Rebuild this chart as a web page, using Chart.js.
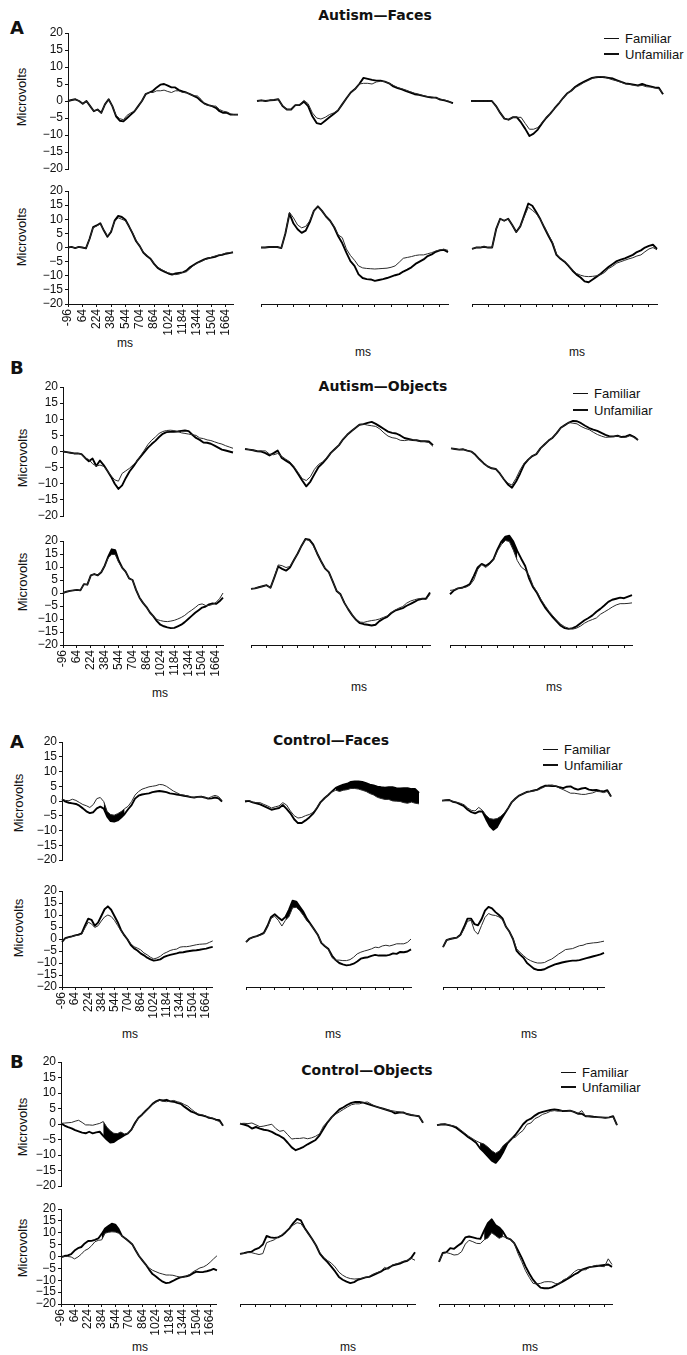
<!DOCTYPE html>
<html>
<head>
<meta charset="utf-8">
<script src="https://cdn.jsdelivr.net/npm/chart.js@4.4.1/dist/chart.umd.min.js"></script>
<style>
  body { margin: 0; background: #fff; }
  #page { position: relative; width: 687px; height: 1355px; overflow: hidden;
          font-family: "Liberation Sans", Arial, sans-serif; color: #111; }
  canvas { position: absolute; }
  .t { position: absolute; white-space: nowrap; line-height: 1; color: #111; }
  .title { font: bold 14px "DejaVu Sans", sans-serif; transform: translate(-50%, -50%); }
  .letter { font: bold 18px "DejaVu Sans", sans-serif; transform: translateY(-50%); }
  .micro { font-size: 13px; transform: translate(-50%, -50%) rotate(-90deg); }
  .ms { font-size: 12px; transform: translate(-50%, -50%); }
  .leg { font-size: 13px; transform: translateY(-50%); }
  .legline { position: absolute; height: 0; }
</style>
</head>
<body>
<div id="page"></div>
<script>
// time axis (ms) and tick labels
const timeMs = [-96, -56, -16, 24, 64, 104, 144, 184, 224, 264, 304, 344, 384, 424, 464, 504, 544, 584, 624, 664, 704, 744, 784, 824, 864, 904, 944, 984, 1024, 1064, 1104, 1144, 1184, 1224, 1264, 1304, 1344, 1384, 1424, 1464, 1504, 1544, 1584, 1624, 1664, 1704, 1744];
const xTickLabels = [-96, 64, 224, 384, 544, 704, 864, 1024, 1184, 1344, 1504, 1664];
const yTickLabels = [20, 15, 10, 5, 0, -5, -10, -15, -20];

// Autism - Faces (1-3 top row, 4-6 bottom row)
const autFaceFam1 = [0,0.3,0.5,0,-0.8,0,-1.5,-3,-2.5,-3.5,-1,0.5,-1.5,-4.2,-5.2,-5.5,-4.2,-3.5,-3,-1.5,0,2,2.5,2.5,3,3,3.2,2.8,2.5,3,3,2.5,2.5,2,1.5,1.5,0.5,-1,-1.3,-1.5,-1.5,-2.5,-3,-3.2,-3.8,-4,-4];
const autFaceUnf1 = [0,0.3,0.5,0,-0.8,0,-1.5,-3,-2.5,-3.5,-1,0.5,-1.5,-4.5,-5.8,-6,-5,-4,-3,-1.5,0,2,2.5,3,4,4.8,5,4.5,4,4,3.2,2.8,2.5,2,1.5,1,0,-0.8,-1.2,-1.5,-2,-3,-3.5,-3.5,-4,-4,-4];
const autFaceFam2 = [0,0.2,0,0.2,0.3,0.5,-1.5,-2.5,-2.5,-1.2,-1.2,0.2,-0.8,-3.5,-5,-5.3,-4.8,-4,-3.5,-2.8,-1,0.8,2.5,3.5,5,5.2,5.2,5,5.6,5.8,5.7,5.2,4.6,4,3.6,3.2,2.7,2.3,2,1.6,1.3,1.2,0.9,0.6,0.3,-0.1,-0.8];
const autFaceUnf2 = [0,0.2,0,0.2,0.3,0.5,-1.5,-2.5,-2.5,-1.2,-1.2,-0.2,-1.5,-4.5,-6.5,-6.8,-5.8,-4.8,-3.8,-2.8,-1,0.8,2.5,3.5,5,6.8,6.5,6.2,6,6,5.7,5.2,4.3,3.8,3.4,2.9,2.5,2,1.8,1.5,1.2,1,1,0.4,0.2,-0.2,-0.6];
const autFaceFam3 = [0,0,0,0,0,0,-1.5,-3.5,-5.2,-5.5,-4.8,-4.8,-4.8,-6.6,-8.3,-8.3,-7.8,-6.4,-4.9,-3.7,-2.2,-0.8,0.8,2.2,3,4,4.6,5.4,6,6.6,7,7.2,7,6.6,6.2,5.9,5.5,5,4.9,4.6,4.4,4.6,4.2,4.1,3.8,3.6,2.2];
const autFaceUnf3 = [0,0,0,0,0,0,-1.5,-3.5,-5.2,-5.5,-4.8,-4.8,-6.3,-8.2,-10.3,-9.6,-8.4,-6.6,-5,-3.7,-2.2,-0.8,0.8,2.2,3,4.2,5,5.6,6.2,6.8,7,7.1,7,6.8,6.6,6.1,5.6,5.2,5,4.8,4.6,5,4.6,4.3,4,3.9,2];
const autFaceFam4 = [0,0.2,-0.2,0.2,0,-0.3,3,7,7.6,8.4,6.2,4,5.8,9.2,10.5,10,9.5,7.5,5.2,2.5,0.5,-1.6,-2.8,-4,-5.6,-7,-7.8,-8.4,-9,-9.3,-9.6,-9.4,-8.8,-8.6,-7.5,-6.4,-5.6,-5,-4.4,-3.9,-3.4,-3,-2.7,-2.4,-2,-1.8,-1.6];
const autFaceUnf4 = [0,0.2,-0.2,0.2,0,-0.3,3,7.2,7.8,8.6,6,3.8,5.5,9.5,11.2,10.8,9.8,7.5,5,2.2,0.5,-1.8,-3,-4,-5.8,-7.2,-8,-8.6,-9.2,-9.6,-9.2,-9,-8.8,-8.2,-7,-6.2,-5.4,-4.8,-4.2,-3.8,-3.6,-3.3,-2.8,-2.6,-2.2,-2,-1.7];
const autFaceFam5 = [0,0,0.2,0.2,0.2,-0.2,5,12.5,10.5,8,7,7.5,9.5,13,14.6,13,11,9.5,7.5,4.5,3.5,-0.5,-2.8,-4.5,-6.5,-7.2,-7.4,-7.5,-7.6,-7.5,-7.4,-7.3,-7,-6.5,-5.2,-3.8,-3.5,-3.2,-2.8,-2.6,-2.6,-2.2,-1.8,-1.2,-0.8,-0.6,-1];
const autFaceUnf5 = [0,0,0.2,0.2,0.2,-0.2,5,12,8.5,6.5,5.2,6,9,13,14.6,13,11,9.5,7.2,4,1.5,-1.8,-4.8,-6.5,-9.5,-10.8,-11.2,-11.3,-11.8,-11.5,-11.2,-10.8,-10.3,-9.8,-9.4,-8.5,-7.8,-7,-5.8,-5,-4.2,-3,-2.4,-1.5,-1,-0.8,-1.6];
const autFaceFam6 = [-0.5,0,0,0.3,0,0,6.5,10.2,9.5,10.2,8,5.5,7.5,11,14.3,13.2,12,10,7.3,4.5,2,-2.3,-3.8,-4.8,-6.3,-8,-9.2,-9.8,-10.2,-10.3,-10.2,-10,-9.6,-8.8,-7.4,-6.6,-5.5,-5,-4.5,-4,-3.6,-3,-2.6,-1.5,-0.5,0,-0.8];
const autFaceUnf6 = [-0.5,0,0,0.3,0,0,6.5,10.2,9.5,10.2,8,5.5,7.5,11.5,15.6,14.8,12.5,10,7,4.2,1.5,-2.6,-4,-5,-6.5,-8.2,-9.6,-10.6,-12,-12.3,-11.3,-10.3,-9.3,-8,-6.8,-5.8,-4.8,-4.3,-3.8,-3.2,-2.6,-1.6,-1,0,0.6,1,-0.5];

// Autism - Objects
const autObjFam1 = [0,-0.2,-0.4,-0.6,-0.6,-0.8,-2,-2.5,-3.8,-4.5,-4.2,-4.6,-6,-7.5,-8.8,-9.2,-6.8,-6,-5.2,-4.1,-3,-1.3,0.4,2.2,3.5,4.5,5.6,6.2,6.5,6.6,6.5,6.2,5.8,5.6,5.4,5.2,5,4.2,4,3.6,3.4,3,2.6,2.3,1.8,1.4,1];
const autObjUnf1 = [0,-0.2,-0.4,-0.6,-0.6,-0.8,-2,-3,-2.2,-4.5,-2.8,-4.2,-6,-7.8,-10,-11.6,-10.5,-8.2,-6.2,-4.7,-3,-1.6,-0.2,1.2,2.3,3.3,4.5,5.5,6,6.1,6.1,6.2,6.4,6.5,6.3,5.2,4.2,3.6,2.8,2.7,2.4,1.8,1.2,0.6,0.3,0,-0.3];
const autObjFam2 = [0.8,0.6,0.4,0.1,0.2,0.2,-0.8,-1,-0.6,-1.5,-2.4,-3.2,-4.7,-6.5,-8.4,-9,-7.8,-5.5,-4,-3.2,-2,-0.4,0.8,2,3.8,5.2,6.3,7.3,8.3,8.5,8.2,8,7.8,7,5.8,4.8,4.3,4.1,3.5,3.4,3.6,3.6,3.4,3.2,3.1,2.8,1.6];
const autObjUnf2 = [0.8,0.6,0.4,0.1,0,-0.5,-1.2,-0.5,0.3,-2,-2.8,-3.6,-5,-7,-9,-10.8,-9.3,-7,-4.8,-3.6,-2.1,-0.4,0.8,2,3.8,5.2,6.3,7.3,8.3,8.5,8.9,9.2,8.6,7.8,7,6.2,5.8,5.6,5,4.2,3.9,3.6,3.5,3.2,3.2,3.1,2];
const autObjFam3 = [1,0.8,0.6,0.7,0.3,0,-1,-2.4,-3.6,-4.6,-5.2,-5.4,-6.8,-8.6,-9.8,-10.4,-8.3,-5.7,-3.6,-2.5,-1.4,-0.8,1,2.2,3.4,4.3,5.7,7.4,8.2,9,8.8,8.6,7.8,7.2,6.8,6,5.3,4.8,4.4,4.5,4.6,4.8,4.4,4.4,4.9,4.4,3.6];
const autObjUnf3 = [1,0.8,0.6,0.7,0.3,0,-1,-2.4,-3.6,-4.6,-5.2,-5.4,-6.8,-8.6,-10.2,-11.2,-9.3,-6.8,-4,-2.5,-1.4,-0.8,1,2.2,3.4,4.3,5.7,7.4,8.2,9,9.5,9.4,8.8,8,7.3,6.8,6.4,5.8,5.2,4.7,4.7,4.9,4.5,4.7,5.2,4.6,3.6];
const autObjFam4 = [0,0.5,0.8,1,1.2,1,3.4,3.2,6.8,7.3,6.8,8,10.5,13.5,14.8,14.8,11.8,9.8,8.2,5.6,5,1.2,-1.8,-3.8,-5.4,-7.5,-9,-10.2,-10.6,-10.9,-11,-10.8,-10.5,-10,-9.4,-8.6,-7.5,-6.6,-5.6,-4.5,-4.2,-4.8,-4.8,-4.4,-3.6,-2.2,0];
const autObjUnf4 = [0,0.5,0.8,1,1.2,1,3.4,3.2,6.8,7.3,6.8,8,10.5,14,16.8,16.5,12.5,9.8,8.2,5.6,5,1.2,-1.8,-3.8,-5.4,-7.5,-9,-10.8,-12.2,-12.8,-13.2,-13.5,-13.4,-12.8,-12.2,-11.2,-10,-8.8,-7.6,-6.6,-5.6,-5.2,-4.4,-4,-4.2,-3.2,-1.8];
const autObjFam5 = [1.6,1.8,2.2,2.6,3,2,6,10.8,10.5,9.8,10.2,12.6,15.2,18.2,20.6,20.2,18.2,15.2,12.2,9.5,8,4.5,0.8,-0.5,-3.8,-6.3,-8.5,-10.3,-11.2,-11.3,-10.9,-10.6,-10.4,-10,-9.4,-8.8,-7.5,-6.6,-5.8,-5.2,-3.9,-3.1,-2.6,-2.2,-2.2,-2.5,-0.5];
const autObjUnf5 = [1.6,1.8,2.2,2.6,3,2,6,10.2,9.3,8.6,9.8,12.6,15.2,18.2,20.8,20.5,18.6,15.2,12.2,9.5,8,4.5,0.8,-0.5,-3.8,-6.3,-8.5,-10.3,-11.6,-12,-12.2,-12.5,-12.2,-10.8,-9.9,-9.2,-7.8,-6.8,-6.3,-5.8,-4.9,-4.2,-3.4,-2.6,-2.2,-2.1,0.2];
const autObjFam6 = [1,1.2,1.8,2,2.2,3,5,9,11,9.8,11,12.8,16.2,18.6,20.2,19.8,16.5,12.5,10,8.8,6.8,2.8,0.4,-2.5,-4.8,-7,-8.8,-10.5,-12,-13,-13.6,-13.9,-13.5,-12.7,-11.6,-10.8,-10.2,-9.6,-8.2,-7.3,-6.4,-5.4,-4.6,-4.1,-4.1,-4,-3.8];
const autObjUnf6 = [-0.5,1,1.8,2,2.6,3.4,6.5,9.8,11.2,10.4,11.4,13,16.8,19.8,21.7,22,19.8,16.2,13.2,10.4,5.5,2.2,0,-3,-5.5,-7.5,-9.4,-11,-12.6,-13.5,-13.8,-13.5,-12.8,-11.6,-10.5,-9.6,-8.6,-7.2,-6.1,-4.8,-3.4,-2.6,-2.2,-1.8,-2,-1.4,-0.8];

// Control - Faces
const ctlFaceFam1 = [0.6,0.2,0.1,0.6,0.2,-0.5,-1.2,-1.6,-2.2,-1.2,0.8,1.2,-0.2,-3.6,-4.6,-4.8,-4.3,-3.6,-2.6,-1.8,-0.2,2,3.2,4,4.4,4.8,5,5.2,5.6,5.5,5,4.2,3.4,2.8,2.2,2,1.7,1.4,1.2,1.4,1.5,1.2,0.9,1.5,1.9,1.5,0.2];
const ctlFaceUnf1 = [0.6,-0.2,-0.6,-0.8,-1,-1.6,-2.5,-3.5,-4.1,-3.8,-2.5,-1.9,-2.6,-5.3,-6.8,-7,-6.6,-5.6,-4.4,-2.8,-1.4,0.8,1.8,2.2,2.4,2.6,3,3.2,3.4,3.2,3,2.6,2.4,2.2,2,1.8,1.6,1.3,1.2,1.4,1.5,1.2,0.8,0.9,1.2,0.9,-0.2];
const ctlFaceFam2 = [0,0.1,-0.4,-0.6,-0.6,-1.2,-1.7,-2.4,-2,-1.7,-0.6,-1.4,-3.4,-5,-5.8,-5.6,-5,-4.6,-3.9,-2.3,-0.2,0.9,2,3,3.6,3.2,3.6,3.8,4.2,4.2,4,3.6,3.2,2.5,2,1.2,0.8,0.5,0.5,0,-0.1,-0.2,-0.6,-0.8,-0.4,-0.8,-1];
const ctlFaceUnf2 = [-0.2,0,-0.5,-0.8,-1.2,-1.8,-2.4,-3,-2.7,-2.4,-1.4,-2.7,-4.2,-6.2,-7.5,-7.5,-6.6,-5.6,-4.3,-2.5,-0.4,0.9,2,3.2,4.4,5,5.5,5.8,6.4,6.6,6.6,6.4,6,5.5,5.2,4.8,4.6,4.5,4.6,4.6,4.3,4.2,4.3,4.3,4,4,2.7];
const ctlFaceFam3 = [0.1,0.2,0.3,-0.2,-0.5,-0.8,-1.3,-2.4,-3.2,-3.4,-2.2,-3.2,-4.9,-6,-6.2,-6,-5.2,-4,-2.5,-0.4,0.8,1.8,2.4,3,3.2,3.4,3.7,4.2,4.8,5.3,5.4,5,4.3,3.8,3.2,2.6,2.6,2.4,2.2,2.2,2.5,2.7,3.2,3.1,2.8,3.2,1.5];
const ctlFaceUnf3 = [0.1,0.2,0.3,-0.3,-0.6,-1.2,-1.8,-3,-3.8,-4.2,-3.6,-3.6,-6.2,-8.5,-9.8,-8.8,-6.5,-4.4,-2.5,-0.4,0.8,1.8,2.4,3,3.2,3.5,3.8,4.6,5.1,5.1,5,5,4.6,4.3,4.8,4.9,4.2,3.8,4.2,4.4,3.8,3.6,3.7,3.4,3.2,3.6,1.5];
const ctlFaceFam4 = [-0.8,0.2,0.6,1,1.4,1.6,2,4.6,7,6.3,4.8,5.5,7.5,9.2,10,9.4,7.8,5.6,3.4,1.4,0,-2,-3.2,-3.8,-4.5,-5.8,-6.6,-7.6,-8.3,-7.9,-7.2,-6.1,-5.5,-4.8,-4.4,-4.2,-3.4,-3.2,-3.2,-3,-2.7,-2.4,-2.2,-2.1,-2,-1.4,-0.8];
const ctlFaceUnf4 = [-1.2,0.4,0.8,1.1,1.5,1.8,2.3,5.6,8.5,8,5.5,6.8,9.6,12.4,13.6,12.2,9.6,7,3.8,1.6,-0.2,-2.5,-3.9,-4.8,-6,-6.8,-7.8,-8.5,-9,-8.8,-8.5,-7.6,-7,-6.6,-6.3,-6,-5.6,-5.5,-5.2,-5,-4.8,-4.7,-4.5,-4.2,-4,-3.6,-3.3];
const ctlFaceFam5 = [-1.2,0,0.8,1.1,1.6,2.2,5,8.6,9.5,7.8,5.4,7.8,9.4,13,13.2,11.8,9.8,7.5,6,4,1.8,-1.4,-3,-4.5,-7.8,-8.8,-8.8,-9,-9,-8.6,-7.6,-6.2,-5.5,-5,-4.6,-4.1,-3.4,-3.6,-2.9,-2.6,-2.9,-2.5,-2,-2,-2,-1.4,0];
const ctlFaceUnf5 = [-1.3,0.2,0.8,1.2,1.8,2.6,5.5,9.2,10.3,9,7.8,9.2,12.2,16,15.6,13.4,11.3,8.4,6.2,4,1.8,-1.6,-3,-4.2,-7,-8.8,-10,-10.6,-11,-10.8,-10.3,-9.4,-8.2,-7.8,-7.6,-7,-6.6,-6.9,-6.9,-6.9,-6.6,-6,-6.2,-5.4,-5.5,-5.2,-4.3];
const ctlFaceFam6 = [-3.4,-0.5,0,0.3,0.6,1.5,4.2,7.4,7.8,3.4,2,5.6,9,10.6,10,9.8,9.2,8,5.1,3,0.2,-4,-5.6,-6.9,-8.2,-9,-9.6,-10,-10,-9.8,-9,-8.4,-7.4,-6.3,-5.4,-4.4,-4.2,-4,-3.4,-2.8,-2.6,-2,-1.8,-1.6,-1.5,-1.2,-0.9];
const ctlFaceUnf6 = [-3.4,-0.5,0,0.3,0.6,1.8,5,8.5,8.5,6.2,5.7,8.2,11.8,13.4,12.8,11.2,10,8.6,5.1,3,0,-4.8,-6.5,-7.8,-10,-11.2,-12.4,-12.9,-12.9,-12.6,-11.8,-11.2,-10.6,-10.2,-9.8,-9.5,-9.2,-9,-9,-8.8,-8.4,-8,-7.6,-7.2,-6.8,-6.4,-5.8];

// Control - Objects
const ctlObjFam1 = [0.2,0.3,0.4,0.5,0.9,1.2,0.5,-0.3,-0.3,-0.4,-0.1,0.2,0.8,-1,-2.2,-3,-3.1,-2.6,-3.2,-3,-2,0,2,3,4.2,5.3,6.4,7.1,7.6,7.3,7.2,7.4,7.6,7.2,6.9,6.3,5.8,4.8,3.9,3.2,3,2.6,2.2,1.9,1.2,0.8,-0.6];
const ctlObjUnf1 = [0.2,-0.5,-1,-1.4,-2,-2.4,-2.8,-3,-2.5,-3,-2.7,-2.5,-3.8,-5,-6,-5.8,-5,-4.3,-3.6,-3,-1.8,0.3,2,3,4.2,5.3,6.5,7.3,7.8,7.6,7.8,7.3,7.2,6.8,6.5,5.6,4.8,4,3.6,3,2.8,2.5,2,1.8,1.4,1.2,-0.6];
const ctlObjFam2 = [0.2,0.3,0.2,0.4,-0.2,-0.8,-0.6,-0.3,0,-1.4,-2.3,-2,-3.4,-4.8,-4.6,-4.6,-4.4,-4.7,-4.4,-3.9,-3.1,-0.6,0.8,2.2,3.2,4,4.8,5.6,6.3,6.6,6.6,7,7.2,6.5,5.8,5.4,5,4.6,4.4,4.2,4,3.7,3.3,3,2.8,2.6,0.5];
const ctlObjUnf2 = [0.2,-0.1,-0.5,-1.4,-0.9,-1.4,-1.8,-2,-2.5,-3.2,-3.8,-4.6,-6,-7.5,-8.4,-7.9,-7.3,-6.5,-5.8,-5.1,-3.6,-1.5,0.6,2.2,3.5,4.8,5.5,6.3,6.9,7.2,7.2,7,6.6,6.2,5.8,5.4,5,4.6,4.2,3.5,3.8,3.8,3.3,3,2.8,2.6,0.5];
const ctlObjFam3 = [-0.3,0,0,-0.2,-0.5,-0.8,-1.8,-2.8,-3.8,-4.6,-5.4,-6,-6.4,-7.4,-8.6,-9.4,-8.6,-6.8,-5.8,-4.6,-4.2,-3,-2,0,0.4,1.8,2.4,3.2,3.6,4.2,4.4,4.2,4.4,4.2,4.4,4,3.5,4.4,2.6,2.4,2.3,2.2,2.2,2.1,2.2,2.4,-0.3];
const ctlObjUnf3 = [-0.3,-0.1,0,-0.3,-0.6,-1.2,-2.2,-3.2,-4.2,-5,-6,-7.8,-9,-10.4,-11.8,-12.5,-11,-8.8,-6.2,-4.8,-3.5,-1.8,0,1.2,1.8,2.8,3.6,4,4.3,4.6,4.8,4.6,4.3,4.3,4.4,4,3.4,3.4,2.6,2.6,2.4,2.3,2.2,2.1,2.2,2.6,-0.3];
const ctlObjFam4 = [-0.3,0,0,-0.2,-1,-0.2,1,2.5,3.2,4.5,6.2,6.8,7,9.8,10.2,10.4,10.3,9.8,8.6,7.6,6.4,5.2,2.6,0.2,-1.6,-3.4,-4.8,-5.8,-6.4,-7,-7.4,-7.8,-7.8,-7.9,-8.3,-8.6,-8.8,-8.2,-7.6,-6.4,-5.6,-4.8,-4.4,-3.6,-2.4,-1,0.3];
const ctlObjUnf4 = [-0.3,0.2,0.5,1,2.5,3.5,4,5.5,6.5,6.6,7,7.6,9.5,11.8,12.8,13.8,13.4,11.5,8.6,7.6,6.4,5.2,2.6,0.2,-1.6,-3.4,-5.5,-7.4,-8.4,-9.6,-10.6,-11.2,-11,-10.3,-9.5,-8.9,-8.6,-8.3,-7.9,-7,-6.4,-6.6,-6.5,-6.2,-5.8,-5.2,-5.8];
const ctlObjFam5 = [1.1,1.2,1.6,1.6,1.2,0.8,1.2,5.8,6.4,7,8.2,9,10.6,12,13.2,14.2,13.8,11.6,9.4,7.2,4.6,1.6,-0.4,-1.7,-2.8,-4.4,-6.6,-7.9,-8.8,-9.3,-9.5,-9.4,-9.2,-8.8,-8.4,-7.4,-6.8,-6.2,-4.6,-5.4,-3.6,-3.2,-2.6,-2,-1.6,-0.8,-1.6];
const ctlObjUnf5 = [1.1,1.4,1.8,2,3,3.6,5,8.6,8,7.8,8,8.8,10.2,11.8,14,15.8,15.2,12,9.6,7.2,4.6,1.2,-0.8,-2.4,-4.3,-6.3,-8.6,-9.8,-10.6,-11.2,-10.8,-9.8,-9.3,-8.8,-8.6,-7.9,-7.1,-6.4,-5.4,-4.8,-3.9,-3.4,-3,-2.3,-1.8,-0.6,1.8];
const ctlObjFam6 = [-2.3,1.2,1.6,1.2,0.6,0.8,2,5.2,6.8,6.2,5.5,5.4,7,7.8,10,8.8,7.6,8.4,7.8,7.2,5.6,1.2,-2.2,-6,-8.8,-11.3,-11.6,-11.3,-10.7,-10.6,-10.7,-11.4,-11.6,-9.9,-9.2,-7.9,-6.4,-5.5,-5.6,-5.6,-4.6,-4,-3.7,-4.2,-4.3,-1,-3.4];
const ctlObjUnf6 = [-2.3,1.5,1.8,3.5,3.2,4.5,5.6,8,8.4,8,7.6,7.4,10.8,14,15.6,13.2,12.2,10.4,7.8,7.2,5.6,2.5,-0.6,-4.2,-7.2,-9.8,-11.6,-13.1,-13.4,-13.4,-13,-12.2,-11.3,-10.5,-9.6,-8.6,-7.6,-6.8,-5.6,-5,-4.5,-4.3,-4,-3.8,-3.6,-3.4,-4.4];

// shaded (significant difference) time windows, ms, per subplot
const autFaceSig = [null, null, null, null, null, null];
const autObjSig = [null, null, null, [424, 544], null, [424, 584]];
const ctlFaceSig = [[384, 624], [864, 1744], [344, 584], null, [344, 584], null];
const ctlObjSig = [[384, 624], null, [344, 624], [384, 624], null, [384, 584]];

// page layout: pixel positions of each subplot (x at -96 / 1744 ms, y at +20 / -20 uV)
const panels = [
  { title: 'Autism\u2014Faces', letter: 'A', titleXY: [375, 15], letterY: 27, legend: [604, 38, 54],
    rows: [[33, 169], [191, 304]],
    cols: [[[68, 238], [257, 453], [471, 663]], [[68, 233], [261, 448], [472, 657]]],
    micro: [[21, 97], [21, 237]], ms: [[125, 343], [363, 352], [577, 352]],
    fam: [autFaceFam1, autFaceFam2, autFaceFam3, autFaceFam4, autFaceFam5, autFaceFam6],
    unf: [autFaceUnf1, autFaceUnf2, autFaceUnf3, autFaceUnf4, autFaceUnf5, autFaceUnf6], sig: autFaceSig },
  { title: 'Autism\u2014Objects', letter: 'B', titleXY: [383, 386], letterY: 367, legend: [573, 393, 410],
    rows: [[387, 516], [541, 645]],
    cols: [[[63, 233], [245, 433], [451, 638]], [[63, 223], [251, 430], [450, 632]]],
    micro: [[22, 458], [22, 582]], ms: [[160, 693], [359, 687], [554, 687]],
    fam: [autObjFam1, autObjFam2, autObjFam3, autObjFam4, autObjFam5, autObjFam6],
    unf: [autObjUnf1, autObjUnf2, autObjUnf3, autObjUnf4, autObjUnf5, autObjUnf6], sig: autObjSig },
  { title: 'Control\u2014Faces', letter: 'A', titleXY: [331, 740], letterY: 741, legend: [543, 749, 765],
    rows: [[742, 860], [891, 987]],
    cols: [[[62, 222], [245, 419], [442, 611]], [[62, 213], [246, 411], [443, 604]]],
    micro: [[18, 803], [18, 928]], ms: [[130, 1034], [333, 1034], [529, 1034]],
    fam: [ctlFaceFam1, ctlFaceFam2, ctlFaceFam3, ctlFaceFam4, ctlFaceFam5, ctlFaceFam6],
    unf: [ctlFaceUnf1, ctlFaceUnf2, ctlFaceUnf3, ctlFaceUnf4, ctlFaceUnf5, ctlFaceUnf6], sig: ctlFaceSig },
  { title: 'Control\u2014Objects', letter: 'B', titleXY: [367, 1070], letterY: 1061, legend: [561, 1072, 1087],
    rows: [[1062, 1186], [1209, 1304]],
    cols: [[[61, 223], [240, 423], [437, 617]], [[61, 217], [240, 415], [439, 612]]],
    micro: [[22, 1127], [22, 1248]], ms: [[140, 1347], [348, 1347], [530, 1347]],
    fam: [ctlObjFam1, ctlObjFam2, ctlObjFam3, ctlObjFam4, ctlObjFam5, ctlObjFam6],
    unf: [ctlObjUnf1, ctlObjUnf2, ctlObjUnf3, ctlObjUnf4, ctlObjUnf5, ctlObjUnf6], sig: ctlObjSig },
];

const FONT = '"Liberation Sans", Arial, sans-serif';
const PAD = 10;
const page = document.getElementById('page');
Chart.defaults.font.family = FONT;
Chart.defaults.color = '#111';

function addText(cls, text, x, y) {
  const d = document.createElement('div');
  d.className = 't ' + cls;
  d.textContent = text;
  d.style.left = x + 'px';
  d.style.top = y + 'px';
  page.appendChild(d);
}

function addLine(x, y, w, thick) {
  const d = document.createElement('div');
  d.className = 'legline';
  d.style.left = x + 'px';
  d.style.top = (y - thick / 2) + 'px';
  d.style.width = w + 'px';
  d.style.borderTop = thick + 'px solid #111';
  page.appendChild(d);
}

const series = vals => timeMs.map((t, i) => ({ x: t, y: vals[i] }));
const masked = (vals, r) => timeMs.map((t, i) => ({ x: t, y: (t >= r[0] && t <= r[1]) ? vals[i] : null }));

function makePlot(o) {
  const yW = o.hasY ? 44 : 0;
  const xH = o.xMode === 'labels' ? 40 : (o.xMode === 'ticks' ? 6 : 0);
  const yMax = o.hasY ? 20 : 25;
  const top = Math.round(o.T - (o.B - o.T) * (yMax - 20) / 40);
  const w = PAD + yW + (o.R - o.L) + PAD;
  const h = PAD + (o.B - top) + xH + PAD;
  const cv = document.createElement('canvas');
  cv.width = w; cv.height = h;
  cv.style.width = w + 'px'; cv.style.height = h + 'px';
  cv.style.left = (o.L - PAD - yW) + 'px';
  cv.style.top = (top - PAD) + 'px';
  page.appendChild(cv);

  const ds = [
    { label: 'Familiar', data: series(o.fam), borderColor: '#2b2b2b', borderWidth: 1 },
    { label: 'Unfamiliar', data: series(o.unf), borderColor: '#000', borderWidth: 1.9 },
  ];
  if (o.sig) {
    ds.push({ label: 'sigA', data: masked(o.fam, o.sig), borderColor: 'transparent', borderWidth: 0, fill: false });
    ds.push({ label: 'sigB', data: masked(o.unf, o.sig), borderColor: 'transparent', borderWidth: 0,
              fill: '-1', backgroundColor: '#000' });
  }
  ds.forEach(d => Object.assign(d, { pointRadius: 0, tension: 0, clip: false, spanGaps: false, borderJoinStyle: 'round' }));

  new Chart(cv, {
    type: 'line',
    data: { datasets: ds },
    options: {
      responsive: false, animation: false, devicePixelRatio: 1, events: [],
      layout: { padding: PAD },
      plugins: { legend: { display: false }, tooltip: { enabled: false } },
      scales: {
        x: {
          type: 'linear', min: -96, max: 1744, display: o.xMode !== 'none',
          afterBuildTicks: s => { s.ticks = xTickLabels.map(v => ({ value: v })); },
          afterFit: s => { s.height = xH; },
          grid: { drawOnChartArea: false, drawTicks: true, tickLength: 3, color: '#111', lineWidth: 1 },
          border: { display: true, color: '#111', width: 1 },
          ticks: { display: o.xMode === 'labels', autoSkip: false, minRotation: 90, maxRotation: 90,
                   padding: 2, font: { size: 12 }, color: '#111', callback: v => String(v) }
        },
        y: {
          type: 'linear', min: -20, max: yMax, display: o.hasY,
          afterBuildTicks: s => { s.ticks = yTickLabels.map(v => ({ value: v })); },
          afterFit: s => { s.width = yW; },
          grid: { drawOnChartArea: false, drawTicks: true, tickLength: 3, color: '#111', lineWidth: 1 },
          border: { display: true, color: '#111', width: 1 },
          ticks: { autoSkip: false, padding: 2, font: { size: 12, lineHeight: 1 }, color: '#111',
                   callback: v => v < 0 ? '\u2212' + (-v) : String(v) }
        }
      }
    }
  });
}

panels.forEach(p => {
  addText('title', p.title, p.titleXY[0], p.titleXY[1]);
  addText('letter', p.letter, 10, p.letterY);
  addLine(p.legend[0], p.legend[1], 15, 1);
  addLine(p.legend[0], p.legend[2], 15, 2);
  addText('leg', 'Familiar', p.legend[0] + 21, p.legend[1]);
  addText('leg', 'Unfamiliar', p.legend[0] + 21, p.legend[2]);
  p.micro.forEach(m => addText('micro', 'Microvolts', m[0], m[1]));
  p.ms.forEach(m => addText('ms', 'ms', m[0], m[1]));
  for (let r = 0; r < 2; r++) {
    for (let c = 0; c < 3; c++) {
      const i = r * 3 + c;
      makePlot({
        L: p.cols[r][c][0], R: p.cols[r][c][1], T: p.rows[r][0], B: p.rows[r][1],
        hasY: c === 0,
        xMode: r === 1 ? (c === 0 ? 'labels' : 'ticks') : 'none',
        fam: p.fam[i], unf: p.unf[i], sig: p.sig[i]
      });
    }
  }
});
</script>
</body>
</html>
